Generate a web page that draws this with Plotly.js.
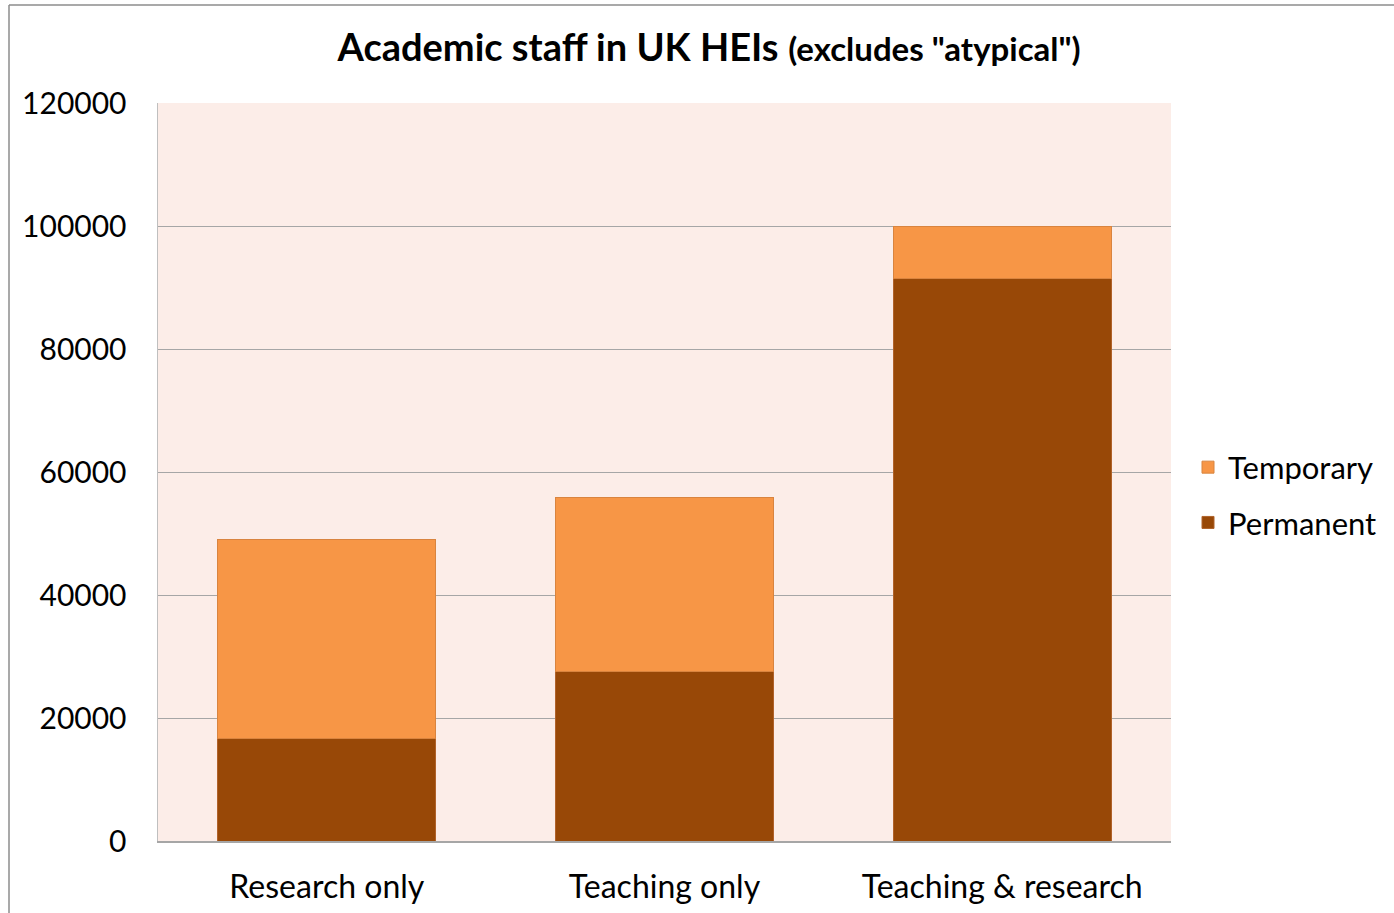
<!DOCTYPE html>
<html><head><meta charset="utf-8">
<script src="https://cdn.plot.ly/plotly-3.0.1.min.js"></script>
<style>body{margin:0;padding:0;background:#fff;} #chart{width:1394px;height:913px;}</style>
</head><body><div id="chart"></div>
<script>
const categories = ["Research only", "Teaching only", "Teaching & research"];
const permanent = [16600, 27600, 91500];
const temporary = [32400, 28300, 8500];
const seriesNames = ["Permanent", "Temporary"];
const yTicks = [0, 20000, 40000, 60000, 80000, 100000, 120000];

const fontFam = "Lato, 'Open Sans', 'Liberation Sans', sans-serif";
const traces = [
  {type:'bar', name:seriesNames[0], x:categories, y:permanent, legendgroup:'a', legendrank:2,
   marker:{color:'#984807', line:{color:'#b0622a', width:1}}},
  {type:'bar', name:seriesNames[1], x:categories, y:temporary, legendgroup:'b', legendrank:1,
   marker:{color:'#f79646', line:{color:'#d9843f', width:1}}}
];
const W=1394, H=913, L=158, R=223, T=103, B=72;
const pw=W-L-R, ph=H-T-B;
const px = v => (v-L)/pw;
const py = v => (H-B-v)/ph;
const layout = {
  width:W, height:H, barmode:'stack', bargap:0.355,
  paper_bgcolor:'#ffffff', plot_bgcolor:'#fcede8',
  margin:{l:L, r:R, t:T, b:B},
  font:{family:fontFam, color:'#000', size:31},
  title:{text:'<b>Academic staff in UK HEIs</b> <b><span style="font-size:33px">(excludes "atypical")</span></b>',
    font:{size:38, family:fontFam, color:'#000'}, x:0.544, xref:'paper', y:0.948, yanchor:'middle', xanchor:'center'},
  xaxis:{showgrid:false, showline:true, linecolor:'#a6a6a6', linewidth:1.5, ticks:'', ticklabelstandoff:17,
    tickfont:{size:32, family:fontFam}},
  yaxis:{range:[0,120000], tickvals:yTicks, ticktext:yTicks.map(String), showgrid:true, gridcolor:'#a6a6a6', gridwidth:1,
    showline:true, linecolor:'#bfbfbf', linewidth:1.5, ticks:'', ticklabelstandoff:24, zeroline:false,
    tickfont:{size:30, family:fontFam}},
  legend:{x:px(1382), xanchor:'right', y:py(495), yanchor:'middle', traceorder:'grouped',
    font:{size:31, family:fontFam}, itemwidth:30, tracegroupgap:12, bgcolor:'rgba(0,0,0,0)'},
  shapes:[
    {type:'line', xref:'paper', yref:'paper', x0:px(9), x1:px(9), y0:py(5), y1:py(930), line:{color:'#8c8c8c', width:1.5}},
    {type:'line', xref:'paper', yref:'paper', x0:px(9), x1:px(1420), y0:py(5), y1:py(5), line:{color:'#8c8c8c', width:1.5}}
  ],
  showlegend:true
};
Plotly.newPlot('chart', traces, layout, {displayModeBar:false, staticPlot:true});
</script></body></html>
